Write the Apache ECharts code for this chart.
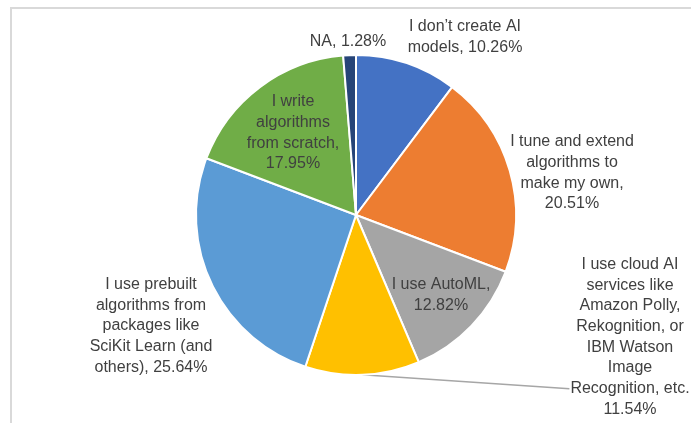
<!DOCTYPE html>
<html>
<head>
<meta charset="utf-8">
<script src="https://cdn.jsdelivr.net/npm/echarts@6/dist/echarts.min.js"></script>
<style>
  html, body { margin: 0; padding: 0; background: #ffffff; }
  #chart { width: 691px; height: 423px; }
</style>
</head>
<body>
<div id="chart"></div>
<script>
// Survey answers, in clockwise order from 12 o'clock
const categories = [
  "I don\u2019t create AI\nmodels",
  "I tune and extend\nalgorithms to\nmake my own",
  "I use AutoML",
  "I use cloud AI\nservices like\nAmazon Polly,\nRekognition, or\nIBM Watson\nImage\nRecognition, etc.",
  "I use prebuilt\nalgorithms from\npackages like\nSciKit Learn (and\nothers)",
  "I write\nalgorithms\nfrom scratch",
  "NA"
];
// Share of respondents, percent
const shares = [10.26, 20.51, 12.82, 11.54, 25.64, 17.95, 1.28];
// Text placed between the answer and its percentage in each label
const valueSeparators = [", ", ",\n", ",\n", "\n", ", ", ",\n", ", "];

const sliceColors = ["#4472C4", "#ED7D31", "#A5A5A5", "#FFC000", "#5B9BD5", "#70AD47", "#264478"];

// Label centres in pixels, one per slice
const labelCenters = [[465, 37], [572, 173], [441, 295], [630, 337], [151, 326], [293, 133], [348, 42]];
const LINE_H = 20.7;
const CLOUD_INDEX = 3;

const chart = echarts.init(document.getElementById('chart'), null, { renderer: 'canvas' });

chart.setOption({
  animation: false,
  backgroundColor: '#ffffff',
  graphic: [{
    type: 'rect',
    silent: true,
    z: -10,
    shape: { x: 11, y: 8, width: 900, height: 700 },
    style: { fill: 'none', stroke: '#d9d9d9', lineWidth: 2 }
  }],
  series: [{
    type: 'pie',
    center: [356, 215],
    radius: 160,
    startAngle: 90,
    clockwise: true,
    avoidLabelOverlap: false,
    emphasis: { disabled: true },
    itemStyle: { borderColor: '#ffffff', borderWidth: 2 },
    label: {
      show: true,
      position: 'outside',
      color: '#404040',
      fontFamily: '"Liberation Sans", Arial, sans-serif',
      fontSize: 16,
      lineHeight: LINE_H,
      align: 'center',
      formatter: p => p.name + valueSeparators[p.dataIndex] + p.value.toFixed(2) + '%'
    },
    labelLine: { show: false },
    labelLayout: function (params) {
      const c = labelCenters[params.dataIndex];
      const out = { x: c[0], y: c[1], align: 'center', verticalAlign: 'middle' };
      if (params.dataIndex === CLOUD_INDEX && params.labelLinePoints) {
        const start = params.labelLinePoints[0];
        const w = params.labelRect.width;
        const h = params.labelRect.height;
        const end = [c[0] - w / 2 - 1, c[1] + h / 2 - 1.5 * LINE_H];
        const mid = [(start[0] + end[0]) / 2, (start[1] + end[1]) / 2];
        out.labelLinePoints = [start, mid, end];
      }
      return out;
    },
    data: categories.map((name, i) => ({
      name: name,
      value: shares[i],
      itemStyle: { color: sliceColors[i] },
      labelLine: {
        show: i === CLOUD_INDEX,
        lineStyle: { color: '#a6a6a6', width: 1.5 }
      }
    }))
  }]
});
</script>
</body>
</html>
